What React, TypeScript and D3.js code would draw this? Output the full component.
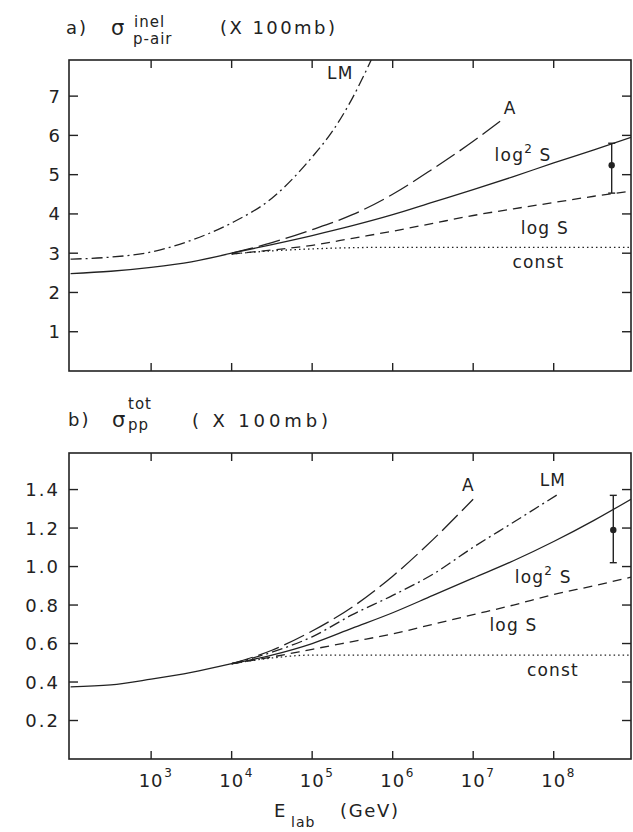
import React, { useEffect, useRef } from 'react';
import * as d3 from 'd3';

// energies are kept as log10(E_lab / GeV), cross sections in units of 100 mb
const xTickExps = [3, 4, 5, 6, 7, 8];
const topYTicks = [1, 2, 3, 4, 5, 6, 7];
const bottomYTicks = [0.2, 0.4, 0.6, 0.8, 1.0, 1.2, 1.4];
const bottomYLabels = ['0.2', '0.4', '0.6', '0.8', '1.0', '1.2', '1.4'];

// a) sigma inel p-air
const topBaseE = [2, 2.5, 3, 3.5, 4];
const topBaseV = [2.48, 2.54, 2.64, 2.78, 3.0];
const topLME = [2, 2.5, 3, 3.5, 4, 4.5, 5, 5.25, 5.5, 5.74];
const topLMV = [2.85, 2.9, 3.03, 3.33, 3.77, 4.4, 5.45, 6.1, 6.95, 7.95];
const topAE = [4, 4.5, 5, 5.5, 6, 6.5, 7, 7.36];
const topAV = [3.0, 3.27, 3.6, 3.98, 4.5, 5.15, 5.85, 6.4];
const topLog2E = [4, 4.5, 5, 5.5, 6, 6.5, 7, 7.5, 8, 8.5, 8.96];
const topLog2V = [3.0, 3.22, 3.45, 3.7, 3.98, 4.3, 4.62, 4.95, 5.3, 5.63, 5.95];
const topLogSE = [4, 4.5, 5, 5.5, 6, 6.5, 7, 7.5, 8, 8.5, 8.96];
const topLogSV = [2.98, 3.08, 3.2, 3.38, 3.56, 3.76, 3.96, 4.13, 4.29, 4.45, 4.58];
const topConstE = [4, 4.5, 5, 5.5, 6, 7, 8, 8.96];
const topConstV = [2.98, 3.06, 3.11, 3.14, 3.15, 3.15, 3.15, 3.15];
const topErr = { e: 8.72, v: 5.24, lo: 4.53, hi: 5.8 };

// b) sigma tot pp
const botBaseE = [2, 2.5, 3, 3.5, 4];
const botBaseV = [0.375, 0.385, 0.415, 0.45, 0.495];
const botAE = [4, 4.5, 5, 5.5, 6, 6.5, 7];
const botAV = [0.495, 0.565, 0.665, 0.79, 0.95, 1.14, 1.35];
const botLME = [4, 4.5, 5, 5.5, 6, 6.5, 7, 7.5, 8.07];
const botLMV = [0.495, 0.555, 0.635, 0.75, 0.85, 0.96, 1.1, 1.23, 1.38];
const botLog2E = [4, 4.5, 5, 5.5, 6, 6.5, 7, 7.5, 8, 8.5, 8.96];
const botLog2V = [0.495, 0.54, 0.6, 0.68, 0.76, 0.85, 0.94, 1.03, 1.13, 1.24, 1.35];
const botLogSE = [4, 4.5, 5, 5.5, 6, 6.5, 7, 7.5, 8, 8.5, 8.96];
const botLogSV = [0.495, 0.53, 0.57, 0.61, 0.65, 0.7, 0.75, 0.8, 0.855, 0.9, 0.945];
const botConstE = [4, 4.5, 5, 6, 7, 8, 8.96];
const botConstV = [0.495, 0.525, 0.54, 0.54, 0.54, 0.54, 0.54];
const botErr = { e: 8.74, v: 1.19, lo: 1.02, hi: 1.37 };

// curve labels, placed in data coordinates
const topLabels = [
  { t: 'LM', e: 5.35, v: 7.59 },
  { t: 'A', e: 7.46, v: 6.7 },
  { t: 'log2', e: 7.62, v: 5.5 },
  { t: 'log S', e: 7.89, v: 3.64 },
  { t: 'const', e: 7.81, v: 2.78 },
];
const botLabels = [
  { t: 'A', e: 6.94, v: 1.424 },
  { t: 'LM', e: 7.99, v: 1.45 },
  { t: 'log2', e: 7.87, v: 0.946 },
  { t: 'log S', e: 7.5, v: 0.696 },
  { t: 'const', e: 7.99, v: 0.462 },
];

const FONT = 'DejaVu Sans';
const INK = '#222';

const dashLM = '11,4,2,4';
const dashA = '22,6';
const dashLogS = '9,6';
const dashConst = '1.5,3';

const App = () => {
  const svgRef = useRef(null);

  useEffect(() => {
    const svg = d3.select(svgRef.current);
    svg.selectAll('*').remove();

    const width = 633;
    const height = 832;
    const left = 69;
    const right = 631;

    svg.attr('width', width).attr('height', height);
    svg.append('rect').attr('width', width).attr('height', height).attr('fill', 'white');

    const x = d3.scaleLog().domain([10 ** 1.98, 10 ** 8.96]).range([left, right]);

    const drawPanel = (opts) => {
      const { top, bottom, yMax, yTicks, yLabels, series, labels, err, id } = opts;
      const y = d3.scaleLinear().domain([0, yMax]).range([bottom, top]);

      const defs = svg.append('defs');
      defs.append('clipPath').attr('id', id)
        .append('rect')
        .attr('x', left).attr('y', top)
        .attr('width', right - left).attr('height', bottom - top);

      const g = svg.append('g');

      // frame
      g.append('rect')
        .attr('x', left).attr('y', top)
        .attr('width', right - left).attr('height', bottom - top)
        .attr('fill', 'none')
        .attr('stroke', INK)
        .attr('stroke-width', 1.6);

      // x ticks, inside on both edges
      xTickExps.forEach(e => {
        const px = x(10 ** e);
        g.append('line').attr('x1', px).attr('x2', px).attr('y1', bottom).attr('y2', bottom - 8)
          .attr('stroke', INK).attr('stroke-width', 1.4);
        g.append('line').attr('x1', px).attr('x2', px).attr('y1', top).attr('y2', top + 8)
          .attr('stroke', INK).attr('stroke-width', 1.4);
      });

      // y ticks + labels
      yTicks.forEach((v, i) => {
        const py = y(v);
        g.append('line').attr('x1', left).attr('x2', left + 9).attr('y1', py).attr('y2', py)
          .attr('stroke', INK).attr('stroke-width', 1.4);
        g.append('line').attr('x1', right).attr('x2', right - 9).attr('y1', py).attr('y2', py)
          .attr('stroke', INK).attr('stroke-width', 1.4);
        g.append('text')
          .attr('x', 60).attr('y', py)
          .attr('text-anchor', 'end')
          .attr('dominant-baseline', 'central')
          .attr('font-family', FONT)
          .attr('font-size', 18)
          .attr('letter-spacing', yLabels[i].length > 1 ? 2 : 0)
          .attr('fill', INK)
          .text(yLabels[i]);
      });

      const line = d3.line()
        .x(d => x(10 ** d[0]))
        .y(d => y(d[1]))
        .curve(d3.curveMonotoneX);

      const curves = g.append('g').attr('clip-path', `url(#${id})`);
      series.forEach(s => {
        curves.append('path')
          .datum(d3.zip(s.e, s.v))
          .attr('fill', 'none')
          .attr('stroke', INK)
          .attr('stroke-width', s.w || 1.3)
          .attr('stroke-dasharray', s.dash || null)
          .attr('d', line);
      });

      // data point with error bar
      const ex = x(10 ** err.e);
      g.append('line').attr('x1', ex).attr('x2', ex).attr('y1', y(err.lo)).attr('y2', y(err.hi))
        .attr('stroke', INK).attr('stroke-width', 1.4);
      [err.lo, err.hi].forEach(v => {
        g.append('line').attr('x1', ex - 3.5).attr('x2', ex + 3.5).attr('y1', y(v)).attr('y2', y(v))
          .attr('stroke', INK).attr('stroke-width', 1.4);
      });
      g.append('circle').attr('cx', ex).attr('cy', y(err.v)).attr('r', 3.2).attr('fill', INK);

      // curve labels
      labels.forEach(l => {
        const t = g.append('text')
          .attr('x', x(10 ** l.e)).attr('y', y(l.v))
          .attr('text-anchor', 'middle')
          .attr('dominant-baseline', 'central')
          .attr('font-family', FONT)
          .attr('font-size', 17)
          .attr('letter-spacing', 1.2)
          .attr('fill', INK);
        if (l.t === 'log2') {
          t.append('tspan').text('log');
          t.append('tspan').attr('font-size', 12).attr('dy', -6).text('2');
          t.append('tspan').attr('dy', 6).text('\u00a0S');
        } else {
          t.text(l.t);
        }
      });

      return y;
    };

    drawPanel({
      id: 'clip-top', top: 60, bottom: 371, yMax: 7.92,
      yTicks: topYTicks, yLabels: topYTicks.map(String),
      series: [
        { e: topBaseE, v: topBaseV },
        { e: topLME, v: topLMV, dash: dashLM },
        { e: topAE, v: topAV, dash: dashA },
        { e: topLog2E, v: topLog2V },
        { e: topLogSE, v: topLogSV, dash: dashLogS },
        { e: topConstE, v: topConstV, dash: dashConst },
      ],
      labels: topLabels, err: topErr,
    });

    drawPanel({
      id: 'clip-bot', top: 453, bottom: 759, yMax: 1.59,
      yTicks: bottomYTicks, yLabels: bottomYLabels,
      series: [
        { e: botBaseE, v: botBaseV },
        { e: botAE, v: botAV, dash: dashA },
        { e: botLME, v: botLMV, dash: dashLM },
        { e: botLog2E, v: botLog2V },
        { e: botLogSE, v: botLogSV, dash: dashLogS },
        { e: botConstE, v: botConstV, dash: dashConst },
      ],
      labels: botLabels, err: botErr,
    });

    // x tick labels (bottom panel only)
    xTickExps.forEach(e => {
      const px = x(10 ** e);
      svg.append('text')
        .attr('x', px).attr('y', 787)
        .attr('text-anchor', 'middle')
        .attr('font-family', FONT).attr('font-size', 18)
        .attr('letter-spacing', 1)
        .attr('fill', INK)
        .text('10');
      svg.append('text')
        .attr('x', px + 13).attr('y', 777)
        .attr('font-family', FONT).attr('font-size', 12)
        .attr('fill', INK)
        .text(String(e));
    });

    const txt = (px, py, s, size, extra = {}) => {
      const t = svg.append('text')
        .attr('x', px).attr('y', py)
        .attr('font-family', FONT).attr('font-size', size)
        .attr('fill', INK)
        .style('white-space', 'pre')
        .text(s);
      Object.entries(extra).forEach(([k, v]) => t.attr(k, v));
      return t;
    };

    // panel titles
    txt(66, 34, 'a)', 18, { 'letter-spacing': 2 });
    txt(111, 35, 'σ', 21);
    txt(134, 27, 'inel', 15, { 'letter-spacing': 1 });
    txt(133, 44, 'p-air', 15, { 'letter-spacing': 1 });
    txt(220, 34, '(X 100mb)', 18, { textLength: 115, lengthAdjust: 'spacing' });

    txt(68, 426, 'b)', 18, { 'letter-spacing': 2 });
    txt(112, 427, 'σ', 21);
    txt(128, 409, 'tot', 15, { 'letter-spacing': 1 });
    txt(128, 430, 'pp', 15, { 'letter-spacing': 1 });
    txt(192, 427, '( X 100mb)', 18, { textLength: 136, lengthAdjust: 'spacing' });

    // x axis title
    txt(274, 817, 'E', 18);
    txt(291, 827, 'lab', 14, { 'letter-spacing': 1 });
    txt(340, 817, '(GeV)', 18, { textLength: 58, lengthAdjust: 'spacing' });
  }, []);

  return (
    <div style={{ position: 'absolute', left: 0, top: 0 }}>
      <svg ref={svgRef}></svg>
    </div>
  );
};

export default App;
